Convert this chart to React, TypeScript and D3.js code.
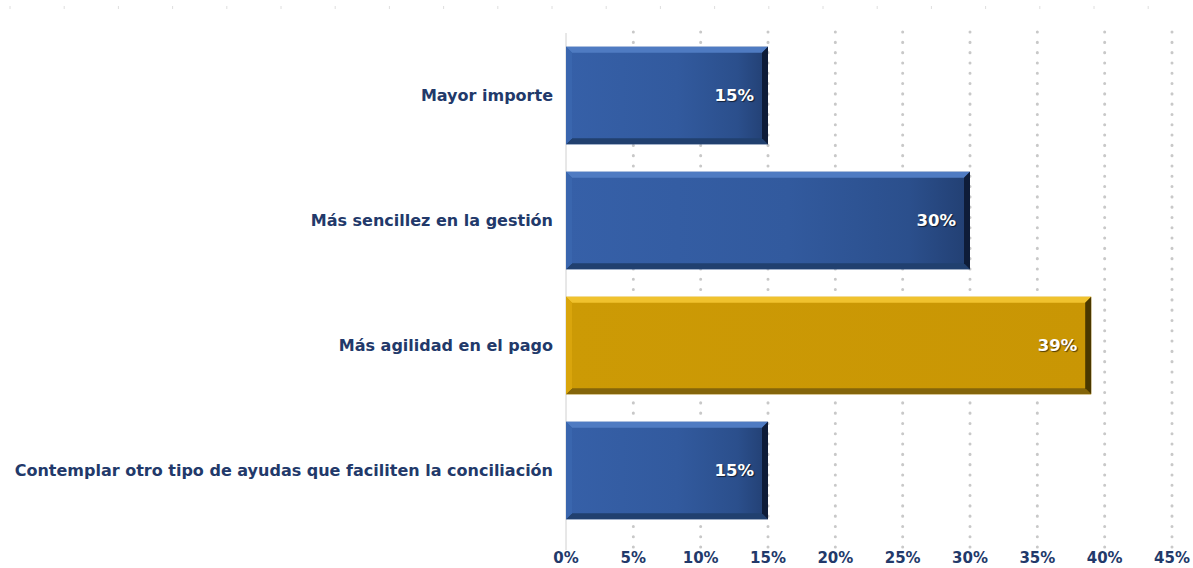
import { useEffect, useRef } from "react";
import * as d3 from "d3";

const categories = [
  "Mayor importe",
  "Más sencillez en la gestión",
  "Más agilidad en el pago",
  "Contemplar otro tipo de ayudas que faciliten la conciliación",
];
const values = [15, 30, 39, 15];
const highlighted = [false, false, true, false];
const xTicks = [0, 5, 10, 15, 20, 25, 30, 35, 40, 45];

const W = 1193;
const H = 568;

export default function App() {
  const svgRef = useRef<SVGSVGElement | null>(null);

  useEffect(() => {
    document.body.style.margin = "0";
    if (!svgRef.current) return;
    const svg = d3.select(svgRef.current);
    svg.selectAll("*").remove();

    const font = "'Century Gothic', 'DejaVu Sans', sans-serif";
    const navy = "#22396a";

    const x = d3.scaleLinear().domain([0, 45]).range([566, 1172]);
    const y = d3
      .scaleBand<string>()
      .domain(categories)
      .range([33, 533])
      .paddingInner(0.22)
      .paddingOuter(0.11);

    const defs = svg.append("defs");
    const mkGrad = (id: string, stops: [number, string][]) => {
      const g = defs
        .append("linearGradient")
        .attr("id", id)
        .attr("x1", "0%")
        .attr("x2", "100%")
        .attr("y1", "0%")
        .attr("y2", "0%");
      stops.forEach(([o, c]) =>
        g.append("stop").attr("offset", `${o}%`).attr("stop-color", c)
      );
    };
    mkGrad("blueGrad", [
      [0, "#3660a8"],
      [55, "#325a9e"],
      [85, "#2b4f8c"],
      [100, "#223f72"],
    ]);
    mkGrad("goldGrad", [
      [0, "#cc9a05"],
      [100, "#c99604"],
    ]);

    // faint ticks along the top
    const topDots = d3.range(10, 1193, 54.2);
    svg
      .append("g")
      .selectAll("line")
      .data(topDots)
      .join("line")
      .attr("x1", (d) => d)
      .attr("x2", (d) => d)
      .attr("y1", 6)
      .attr("y2", 9)
      .attr("stroke", "#dedede")
      .attr("stroke-width", 1);

    // dotted gridlines
    svg
      .append("g")
      .selectAll("line")
      .data(xTicks.slice(1))
      .join("line")
      .attr("x1", (d) => x(d))
      .attr("x2", (d) => x(d))
      .attr("y1", 32)
      .attr("y2", 550)
      .attr("stroke", "#c8c8c8")
      .attr("stroke-width", 3)
      .attr("stroke-linecap", "round")
      .attr("stroke-dasharray", "0.1 10.2");

    // axis line
    svg
      .append("line")
      .attr("x1", x(0))
      .attr("x2", x(0))
      .attr("y1", 33)
      .attr("y2", 550)
      .attr("stroke", "#d0d0d0")
      .attr("stroke-width", 1);

    const bars = svg
      .append("g")
      .selectAll("g")
      .data(categories.map((c, i) => ({ c, v: values[i], hl: highlighted[i] })))
      .join("g");

    const b = 6;
    bars
      .append("rect")
      .attr("x", x(0))
      .attr("y", (d) => y(d.c)!)
      .attr("width", (d) => x(d.v) - x(0))
      .attr("height", y.bandwidth())
      .attr("fill", (d) => (d.hl ? "url(#goldGrad)" : "url(#blueGrad)"));

    const poly = (pts: [number, number][]) => pts.map((p) => p.join(",")).join(" ");

    // top bevel
    bars
      .append("polygon")
      .attr("points", (d) => {
        const x0 = x(0), x1 = x(d.v), y0 = y(d.c)!;
        return poly([[x0, y0], [x1, y0], [x1 - b, y0 + b], [x0 + b, y0 + b]]);
      })
      .attr("fill", (d) => (d.hl ? "#f0c22e" : "#4f7bc2"));
    // bottom bevel
    bars
      .append("polygon")
      .attr("points", (d) => {
        const x0 = x(0), x1 = x(d.v), y1 = y(d.c)! + y.bandwidth();
        return poly([[x0, y1], [x1, y1], [x1 - b, y1 - b], [x0 + b, y1 - b]]);
      })
      .attr("fill", (d) => (d.hl ? "#84650a" : "#21406f"));
    // left bevel
    bars
      .append("polygon")
      .attr("points", (d) => {
        const x0 = x(0), y0 = y(d.c)!, y1 = y0 + y.bandwidth();
        return poly([[x0, y0], [x0 + b, y0 + b], [x0 + b, y1 - b], [x0, y1]]);
      })
      .attr("fill", (d) => (d.hl ? "#d9a50c" : "#3a66ae"));
    // right bevel
    bars
      .append("polygon")
      .attr("points", (d) => {
        const x1 = x(d.v), y0 = y(d.c)!, y1 = y0 + y.bandwidth();
        return poly([[x1, y0], [x1 - b, y0 + b], [x1 - b, y1 - b], [x1, y1]]);
      })
      .attr("fill", (d) => (d.hl ? "#4a3800" : "#0e1c38"));

    // value labels
    bars
      .append("text")
      .attr("x", (d) => x(d.v) - 14)
      .attr("y", (d) => y(d.c)! + y.bandwidth() / 2 + 1)
      .attr("text-anchor", "end")
      .attr("dominant-baseline", "middle")
      .attr("fill", "#ffffff")
      .attr("font-family", font)
      .attr("font-weight", 700)
      .attr("font-size", 16.5)
      .style("text-shadow", "1px 1px 1px rgba(0,0,0,0.6)")
      .text((d) => `${d.v}%`);

    // category labels
    svg
      .append("g")
      .selectAll("text")
      .data(categories)
      .join("text")
      .attr("x", 553)
      .attr("y", (d) => y(d)! + y.bandwidth() / 2 + 1)
      .attr("text-anchor", "end")
      .attr("dominant-baseline", "middle")
      .attr("fill", navy)
      .attr("font-family", font)
      .attr("font-weight", 700)
      .attr("font-size", 16)
      .text((d) => d);

    // x tick labels
    svg
      .append("g")
      .selectAll("text")
      .data(xTicks)
      .join("text")
      .attr("x", (d) => x(d))
      .attr("y", 558)
      .attr("text-anchor", "middle")
      .attr("dominant-baseline", "middle")
      .attr("fill", navy)
      .attr("font-family", font)
      .attr("font-weight", 700)
      .attr("font-size", 15)
      .text((d) => `${d}%`);
  }, []);

  return (
    <svg
      ref={svgRef}
      width={W}
      height={H}
      style={{ display: "block", background: "#ffffff" }}
    />
  );
}
